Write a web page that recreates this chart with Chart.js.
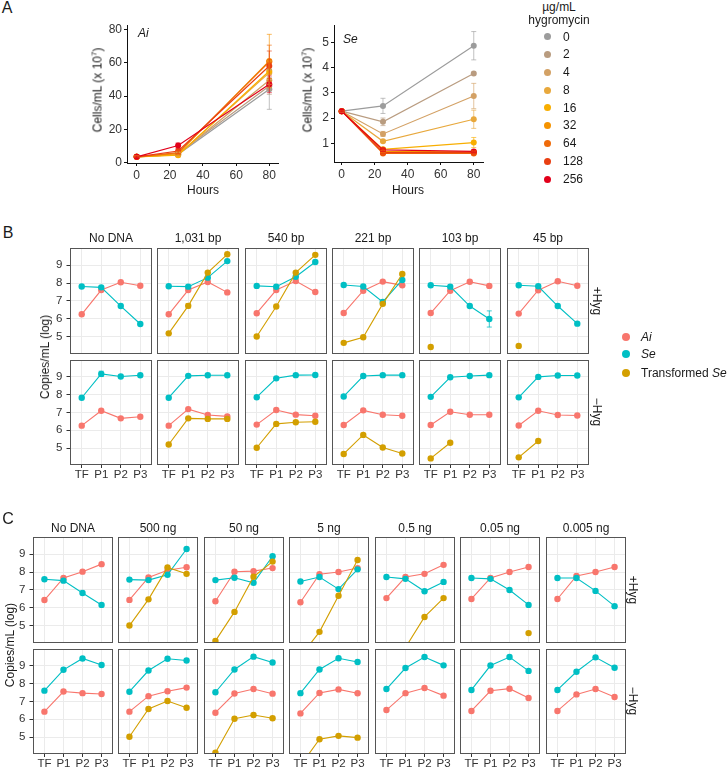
<!DOCTYPE html>
<html><head><meta charset="utf-8">
<script src="https://cdn.jsdelivr.net/npm/chart.js@4.4.1/dist/chart.umd.min.js"></script>
<style>
html,body{margin:0;padding:0;background:#fff;}
#root{position:relative;width:727px;height:769px;overflow:hidden;font-family:'Liberation Sans',Arial,sans-serif;color:#1a1a1a;background:#fff;}
canvas{position:absolute;}
.t{position:absolute;white-space:nowrap;line-height:1;}
.dot{position:absolute;border-radius:50%;}
</style></head>
<body><div id="root"></div>
<script>
// ---------------- DATA ----------------
// Panel A
const hours = [0, 25, 80];
const doses = ['0','2','4','8','16','32','64','128','256'];
const doseColors = ['#9C9C9C','#B99C80','#D3A165','#E8A83C','#F8AE00','#F59300','#EF6B0A','#E93F12','#E2001A'];
const aiCells = [
  [3.5, 5.0, 44],
  [3.5, 5.5, 46],
  [3.5, 5.0, 49.5],
  [3.5, 4.8, 54],
  [3.5, 4.5, 55],
  [3.5, 5.5, 61],
  [3.5, 6.0, 60.5],
  [3.5, 7.0, 58],
  [3.5, 10.3, 47]
];
const aiCellsErr = [
  [0.4, 1.0, 12],
  [0.4, 1.0, 5],
  [0.4, 1.0, 6],
  [0.4, 1.0, 7],
  [0.4, 1.0, 6],
  [0.4, 1.0, 16],
  [0.4, 1.0, 10],
  [0.4, 1.5, 9],
  [0.4, 1.5, 5]
];
const seCells = [
  [2.27, 2.48, 4.86],
  [2.27, 1.85, 3.76],
  [2.27, 1.37, 2.87],
  [2.27, 1.08, 1.95],
  [2.27, 0.76, 1.03],
  [2.27, 0.68, 0.66],
  [2.27, 0.60, 0.60],
  [2.27, 0.63, 0.63],
  [2.27, 0.74, 0.68]
];
const seCellsErr = [
  [0.02, 0.30, 0.56],
  [0.02, 0.15, 0.05],
  [0.02, 0.10, 0.50],
  [0.02, 0.05, 0.36],
  [0.02, 0.05, 0.20],
  [0.02, 0.05, 0.05],
  [0.02, 0.05, 0.05],
  [0.02, 0.05, 0.05],
  [0.02, 0.05, 0.05]
];

// Panels B and C
const stages = ['TF','P1','P2','P3'];
const logTicks = [5, 6, 7, 8, 9];
const seriesNames = ['Ai', 'Se', 'Transformed Se'];
const seriesColors = ['#F8766D', '#00BFC4', '#D39F00'];

const bConstructs = ['No DNA','1,031 bp','540 bp','221 bp','103 bp','45 bp'];
const bAiHyg = [[6.26,7.61,8.04,7.85],[6.26,7.61,8.06,7.48],[6.32,7.61,8.11,7.5],[6.33,7.57,8.08,7.87],[6.33,7.57,8.07,7.84],[6.3,7.6,8.1,7.85]];
const bSeHyg = [[7.81,7.76,6.72,5.72],[7.82,7.8,8.3,9.22],[7.84,7.79,8.35,9.17],[7.89,7.81,6.95,8.17],[7.88,7.8,6.72,6.0],[7.88,7.82,6.72,5.74]];
const bTrHyg = [[null,null,null,null],[5.2,6.73,8.58,9.6],[5.02,6.69,8.58,9.57],[4.67,4.98,6.84,8.5],[4.44,null,null,null],[4.5,null,null,null]];
const bAiNoHyg = [[6.26,7.1,6.67,6.76],[6.26,7.19,6.86,6.78],[6.32,7.14,6.88,6.82],[6.3,7.12,6.87,6.82],[6.3,7.04,6.87,6.87],[6.27,7.1,6.86,6.83]];
const bSeNoHyg = [[7.83,9.17,9.02,9.09],[7.83,9.06,9.09,9.09],[7.86,8.92,9.1,9.11],[7.9,9.05,9.1,9.1],[7.88,8.98,9.05,9.1],[7.85,9.0,9.08,9.08]];
const bTrNoHyg = [[null,null,null,null],[5.2,6.67,6.64,6.64],[5.02,6.36,6.45,6.48],[4.67,5.74,5.03,4.7],[4.42,5.3,null,null],[4.48,5.4,null,null]];
const bSeHygErr = [[0,0,0,0],[0,0,0,0],[0,0,0,0],[0,0,0,0],[0,0,0,0.45],[0,0,0,0]];
const bTrHygErr = [[0,0,0,0],[0,0.13,0,0],[0,0,0,0],[0,0,0,0],[0,0,0,0],[0,0,0,0]];
const bSeNoHygErr = [[0,0.15,0,0],[0,0,0,0],[0,0,0,0],[0,0,0,0],[0,0,0,0],[0,0,0,0]];

const cAmounts = ['No DNA','500 ng','50 ng','5 ng','0.5 ng','0.05 ng','0.005 ng'];
const cAiHyg = [[6.44,7.67,8.02,8.44],[6.45,7.7,8.1,8.27],[6.37,8.02,8.05,8.22],[6.32,7.88,8.0,8.22],[6.55,7.72,7.9,8.4],[6.5,7.67,8.0,8.28],[6.5,7.78,8.0,8.28]];
const cSeHyg = [[7.6,7.52,6.83,6.17],[7.58,7.55,7.85,9.28],[7.55,7.68,7.4,8.88],[7.47,7.72,7.05,8.15],[7.72,7.62,6.93,7.45],[7.67,7.62,7.0,6.17],[7.67,7.67,6.95,6.1]];
const cTrHyg = [[null,null,null,null],[5.02,6.48,8.26,7.9],[4.17,5.78,7.74,8.58],[3.3,4.67,6.68,8.67],[null,3.8,5.5,6.55],[null,null,null,4.6],[null,null,null,null]];
const cAiNoHyg = [[6.43,7.56,7.47,7.42],[6.43,7.3,7.58,7.78],[6.37,7.45,7.7,7.44],[6.33,7.48,7.68,7.46],[6.52,7.47,7.76,7.33],[6.47,7.6,7.72,7.2],[6.47,7.4,7.7,7.25]];
const cSeNoHyg = [[7.61,8.78,9.42,9.05],[7.55,8.74,9.4,9.3],[7.52,8.8,9.52,9.19],[7.47,8.8,9.43,9.22],[7.7,8.88,9.5,9.03],[7.65,9.02,9.5,8.72],[7.65,8.67,9.48,8.9]];
const cTrNoHyg = [[null,null,null,null],[5.02,6.58,7.03,6.65],[4.12,6.03,6.24,6.06],[3.4,4.88,5.07,4.97],[null,null,null,null],[null,null,null,null],[null,null,null,null]];

// ---------------- RENDERING ----------------
const FONT = "'Liberation Sans', Arial, sans-serif";
const root = document.getElementById('root');
Chart.defaults.font.family = FONT;

function addText(html, x, y, o = {}) {
  const d = document.createElement('div');
  d.className = 't';
  d.innerHTML = html;
  d.style.left = x + 'px';
  d.style.top = y + 'px';
  d.style.fontSize = (o.size || 12) + 'px';
  if (o.color) d.style.color = o.color;
  let tr = o.align === 'left' ? 'translate(0,-50%)' : 'translate(-50%,-50%)';
  if (o.rot) tr += ' rotate(' + o.rot + 'deg)';
  d.style.transform = tr;
  root.appendChild(d);
}
function addDot(x, y, r, color) {
  const d = document.createElement('div');
  d.className = 'dot';
  Object.assign(d.style, {left:(x-r)+'px', top:(y-r)+'px', width:(2*r)+'px', height:(2*r)+'px', background:color});
  root.appendChild(d);
}

const errorBars = {
  id: 'errorBars',
  afterDatasetsDraw(chart) {
    const c = chart.ctx, a = chart.chartArea, xs = chart.scales.x, ys = chart.scales.y;
    c.save();
    c.beginPath(); c.rect(a.left, a.top, a.right - a.left, a.bottom - a.top); c.clip();
    chart.data.datasets.forEach(ds => {
      if (!ds.errs) return;
      const cap = ds.errCap || 2.5;
      ds.errs.forEach((e, k) => {
        const d = ds.data[k];
        if (!e || !d || d.y == null) return;
        const px = xs.getPixelForValue(d.x);
        const y1 = ys.getPixelForValue(d.y - e), y2 = ys.getPixelForValue(d.y + e);
        c.strokeStyle = ds.borderColor; c.globalAlpha = ds.errAlpha || 0.85; c.lineWidth = 0.9;
        c.beginPath();
        c.moveTo(px, y1); c.lineTo(px, y2);
        c.moveTo(px - cap, y1); c.lineTo(px + cap, y1);
        c.moveTo(px - cap, y2); c.lineTo(px + cap, y2);
        c.stroke();
      });
    });
    c.restore();
  }
};
const panelBorder = {
  id: 'panelBorder',
  afterDraw(chart, args, opts) {
    if (!opts.show) return;
    const a = chart.chartArea, c = chart.ctx;
    c.save(); c.strokeStyle = '#555'; c.lineWidth = 1;
    c.strokeRect(Math.round(a.left) + 0.5, Math.round(a.top) + 0.5, Math.round(a.right - a.left) - 1, Math.round(a.bottom - a.top) - 1);
    c.restore();
  }
};

function makeChart(area, yW, xH, config) {
  const P = 12;
  const cv = document.createElement('canvas');
  const W = area.w + 2 * P + yW, H = area.h + 2 * P + xH;
  cv.width = W; cv.height = H;
  Object.assign(cv.style, {left:(area.x - P - yW) + 'px', top:(area.y - P) + 'px', width:W + 'px', height:H + 'px'});
  root.appendChild(cv);
  config.options = Object.assign({
    responsive:false, animation:false, devicePixelRatio:1, events:[],
    layout:{padding:{left:P, right:P, top:P, bottom:P}}
  }, config.options);
  config.options.plugins = Object.assign({legend:{display:false}, tooltip:{enabled:false}}, config.options.plugins || {});
  config.plugins = [errorBars, panelBorder];
  return new Chart(cv, config);
}

// ---- Panel A ----
function growthChart(area, vals, errs, xr, yr, yTicks) {
  const tf = {family:FONT, size:12};
  makeChart(area, 30, 20, {
    type:'line',
    data:{datasets: doses.map((d, i) => ({
      data: hours.map((h, k) => ({x:h, y:vals[i][k]})),
      borderColor:doseColors[i], backgroundColor:doseColors[i],
      borderWidth:1.2, pointRadius:3, pointHoverRadius:3, pointBorderWidth:0,
      order:-i, errs:errs[i], errCap:2.5, errAlpha:0.7
    }))},
    options:{
      plugins:{panelBorder:{show:false}},
      scales:{
        x:{type:'linear', min:xr[0], max:xr[1],
          afterBuildTicks:s => { s.ticks = [0,20,40,60,80].map(v => ({value:v})); },
          afterFit:s => { s.height = 20; },
          border:{display:true, color:'#111', width:1},
          grid:{drawOnChartArea:false, drawTicks:true, tickLength:3, tickColor:'#111'},
          ticks:{padding:2, color:'#333', font:tf, maxRotation:0, autoSkip:false}
        },
        y:{type:'linear', min:yr[0], max:yr[1],
          afterBuildTicks:s => { s.ticks = yTicks.map(v => ({value:v})); },
          afterFit:s => { s.width = 30; },
          border:{display:true, color:'#111', width:1},
          grid:{drawOnChartArea:false, drawTicks:true, tickLength:3, tickColor:'#111'},
          ticks:{padding:2, color:'#333', font:tf}
        }
      }
    }
  });
}
growthChart({x:127, y:25, w:151, h:138}, aiCells, aiCellsErr, [-5.85, 85.25], [-0.2, 82.6], [0,20,40,60,80]);
growthChart({x:334, y:25, w:149, h:137}, seCells, seCellsErr, [-4.67, 85.6], [0.26, 5.68], [1,2,3,4,5]);

addText('A', 7, 8, {size:16});
addText('<i>Ai</i>', 138, 33, {align:'left'});
addText('<i>Se</i>', 343, 39, {align:'left'});
addText('Hours', 203, 190);
addText('Hours', 408, 190);
addText('Cells/mL (x 10<sup style="font-size:8px;vertical-align:5px">7</sup>)', 97, 90, {rot:-90});
addText('Cells/mL (x 10<sup style="font-size:8px;vertical-align:5px">7</sup>)', 307, 90, {rot:-90});
addText('µg/mL', 559, 7);
addText('hygromycin', 559, 20);
const legY = [36.7, 54.3, 72, 90, 107.7, 125.3, 143.3, 161.3, 179];
doses.forEach((d, i) => {
  addDot(547.3, legY[i], 3.5, doseColors[i]);
  addText(d, 563, legY[i], {align:'left'});
});

// ---- Facet panels ----
function facet(area, showY, showX, series) {
  const yW = showY ? 28 : 0, xH = showX ? 20 : 0;
  const tf = {family:FONT, size:11.5};
  makeChart(area, yW, xH, {
    type:'line',
    data:{datasets: series.map((s, i) => ({
      data: s.vals.map((v, k) => ({x:k, y:v})),
      borderColor:s.color, backgroundColor:s.color,
      borderWidth:1.1, pointRadius:3.2, pointHoverRadius:3.2, pointBorderWidth:0,
      clip:0, order:-i, errs:s.err || null, errCap:2.5
    }))},
    options:{
      plugins:{panelBorder:{show:true}},
      scales:{
        x:{type:'linear', min:-0.6, max:3.6,
          afterBuildTicks:s => { s.ticks = stages.map((_, k) => ({value:k})); },
          afterFit:s => { s.height = xH; },
          border:{display:false},
          grid:{color:'#EBEBEB', lineWidth:1, drawTicks:showX, tickLength:3, tickColor:'#333'},
          ticks:{display:showX, padding:0, color:'#333', font:tf, maxRotation:0, autoSkip:false, callback:v => stages[v]}
        },
        y:{type:'linear', min:4.05, max:9.95,
          afterBuildTicks:s => { s.ticks = logTicks.map(v => ({value:v})); },
          afterFit:s => { s.width = yW; },
          border:{display:false},
          grid:{color:'#EBEBEB', lineWidth:1, drawTicks:showY, tickLength:3.5, tickColor:'#333'},
          ticks:{display:showY, padding:4, color:'#333', font:tf}
        }
      }
    }
  });
}

// Panel B
const bLefts = [70, 157, 245, 332, 419, 507];
const bW = 82;
const bRows = [{y:248, h:106}, {y:360, h:105}];
bConstructs.forEach((name, j) => {
  const x = bLefts[j];
  facet({x, y:bRows[0].y, w:bW, h:bRows[0].h}, j === 0, false, [
    {vals:bAiHyg[j], color:seriesColors[0]},
    {vals:bSeHyg[j], color:seriesColors[1], err:bSeHygErr[j]},
    {vals:bTrHyg[j], color:seriesColors[2], err:bTrHygErr[j]}
  ]);
  facet({x, y:bRows[1].y, w:bW, h:bRows[1].h}, j === 0, true, [
    {vals:bAiNoHyg[j], color:seriesColors[0]},
    {vals:bSeNoHyg[j], color:seriesColors[1], err:bSeNoHygErr[j]},
    {vals:bTrNoHyg[j], color:seriesColors[2]}
  ]);
  addText(name, x + bW / 2, 238);
});
addText('B', 8, 233, {size:16});
addText('Copies/mL (log)', 45, 357, {rot:-90});
addText('+Hyg', 597, 301, {rot:90});
addText('\u2212Hyg', 597, 412, {rot:90});
addDot(626, 336.7, 4, seriesColors[0]); addText('<i>Ai</i>', 641, 336.7, {align:'left'});
addDot(626, 354.3, 4, seriesColors[1]); addText('<i>Se</i>', 641, 354.3, {align:'left'});
addDot(626, 372.7, 4, seriesColors[2]); addText('Transformed <i>Se</i>', 641, 372.7, {align:'left'});

// Panel C
const cLefts = [33, 118, 204, 289, 375, 460, 546];
const cW = 80;
const cRows = [{y:537, h:106}, {y:649, h:105}];
cAmounts.forEach((name, j) => {
  const x = cLefts[j];
  facet({x, y:cRows[0].y, w:cW, h:cRows[0].h}, j === 0, false, [
    {vals:cAiHyg[j], color:seriesColors[0]},
    {vals:cSeHyg[j], color:seriesColors[1]},
    {vals:cTrHyg[j], color:seriesColors[2]}
  ]);
  facet({x, y:cRows[1].y, w:cW, h:cRows[1].h}, j === 0, true, [
    {vals:cAiNoHyg[j], color:seriesColors[0]},
    {vals:cSeNoHyg[j], color:seriesColors[1]},
    {vals:cTrNoHyg[j], color:seriesColors[2]}
  ]);
  addText(name, x + cW / 2, 528);
});
addText('C', 8, 519, {size:16});
addText('Copies/mL (log)', 10, 645, {rot:-90});
addText('+Hyg', 633, 590, {rot:90});
addText('\u2212Hyg', 633, 701, {rot:90});
</script>
</body></html>
